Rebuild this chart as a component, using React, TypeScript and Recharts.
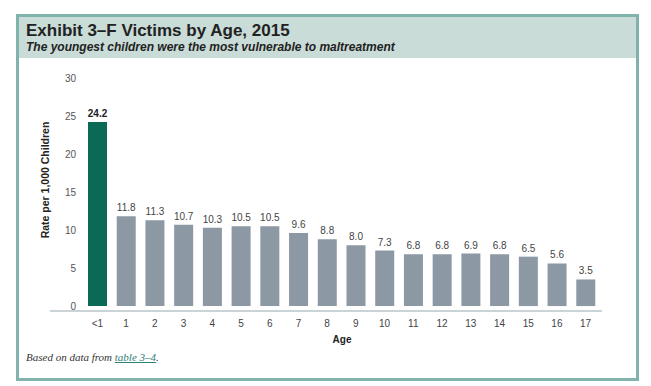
import { BarChart, Bar, Cell, XAxis, YAxis, LabelList } from "recharts";

const ages = ["<1", "1", "2", "3", "4", "5", "6", "7", "8", "9", "10", "11", "12", "13", "14", "15", "16", "17"];
const rates = [24.2, 11.8, 11.3, 10.7, 10.3, 10.5, 10.5, 9.6, 8.8, 8.0, 7.3, 6.8, 6.8, 6.9, 6.8, 6.5, 5.6, 3.5];
const yTicks = [0, 5, 10, 15, 20, 25, 30];

const data = ages.map((age, i) => ({ age, rate: rates[i] }));

const SANS = "'Liberation Sans', Arial, sans-serif";
const GREEN = "#0b6a55";
const GREY = "#8c98a4";

function YTick(props: any) {
  const { y, payload } = props;
  return (
    <text x={76} y={y} dy={4} textAnchor="end" fontSize={10} fill="#555" fontFamily={SANS}>
      {payload.value}
    </text>
  );
}

function ValueLabel(props: any) {
  const { x, y, width, value, index } = props;
  const first = index === 0;
  return (
    <text
      x={x + width / 2}
      y={y - 5}
      textAnchor="middle"
      fontSize={10}
      fontWeight={first ? "bold" : "normal"}
      fill={first ? "#222" : "#444"}
      fontFamily={SANS}
    >
      {value.toFixed(1)}
    </text>
  );
}

export default function App() {
  return (
    <div style={{ position: "absolute", left: 0, top: 0, width: 651, height: 386, background: "#fff" }}>
      <div
        style={{
          position: "absolute",
          left: 16,
          top: 14,
          width: 623,
          height: 367,
          border: "3px solid #7fb3ab",
          boxSizing: "border-box",
        }}
      >
        <div style={{ height: 41, background: "#c9dcd8", fontFamily: SANS, paddingLeft: 7 }}>
          <div style={{ fontSize: 17, fontWeight: "bold", color: "#222", lineHeight: "20px", paddingTop: 4 }}>
            Exhibit 3–F Victims by Age, 2015
          </div>
          <div style={{ fontSize: 12, fontWeight: "bold", fontStyle: "italic", color: "#222", lineHeight: "13px" }}>
            The youngest children were the most vulnerable to maltreatment
          </div>
        </div>
        <div
          style={{
            position: "absolute",
            left: 7,
            top: 334,
            fontFamily: "'Liberation Serif', 'Times New Roman', serif",
            fontStyle: "italic",
            fontSize: 11,
            color: "#333",
          }}
        >
          Based on data from{" "}
          <span style={{ color: "#2f8078", textDecoration: "underline" }}>table 3–4</span>.
        </div>
      </div>
      <div style={{ position: "absolute", left: 0, top: 0 }}>
        <BarChart
          width={651}
          height={386}
          data={data}
          margin={{ top: 78, right: 49, bottom: 45, left: 49 }}
          barSize={19}
        >
          <XAxis
            dataKey="age"
            height={30}
            interval={0}
            tickLine={false}
            tickMargin={3}
            padding={{ left: 33, right: 2 }}
            axisLine={{ stroke: "#b9c4c8", strokeWidth: 1.5 }}
            tick={{ fontSize: 10, fill: "#444", fontFamily: SANS }}
            label={{
              content: () => (
                <text x={342} y={343} textAnchor="middle" fontSize={10} fontWeight="bold" fill="#222" fontFamily={SANS}>
                  Age
                </text>
              ),
            }}
          />
          <YAxis
            width={1}
            domain={[-0.65, 30]}
            ticks={yTicks}
            interval={0}
            axisLine={false}
            tickLine={false}
            tick={(p: any) => <YTick {...p} />}
            label={{
              content: () => (
                <text
                  x={49}
                  y={180}
                  transform="rotate(-90, 49, 180)"
                  textAnchor="middle"
                  fontSize={10.5}
                  fontWeight="bold"
                  fill="#222"
                  fontFamily={SANS}
                >
                  Rate per 1,000 Children
                </text>
              ),
            }}
          />
          <Bar dataKey="rate" isAnimationActive={false}>
            {data.map((d, i) => (
              <Cell key={d.age} fill={i === 0 ? GREEN : GREY} />
            ))}
            <LabelList dataKey="rate" content={<ValueLabel />} />
          </Bar>
        </BarChart>
      </div>
    </div>
  );
}
